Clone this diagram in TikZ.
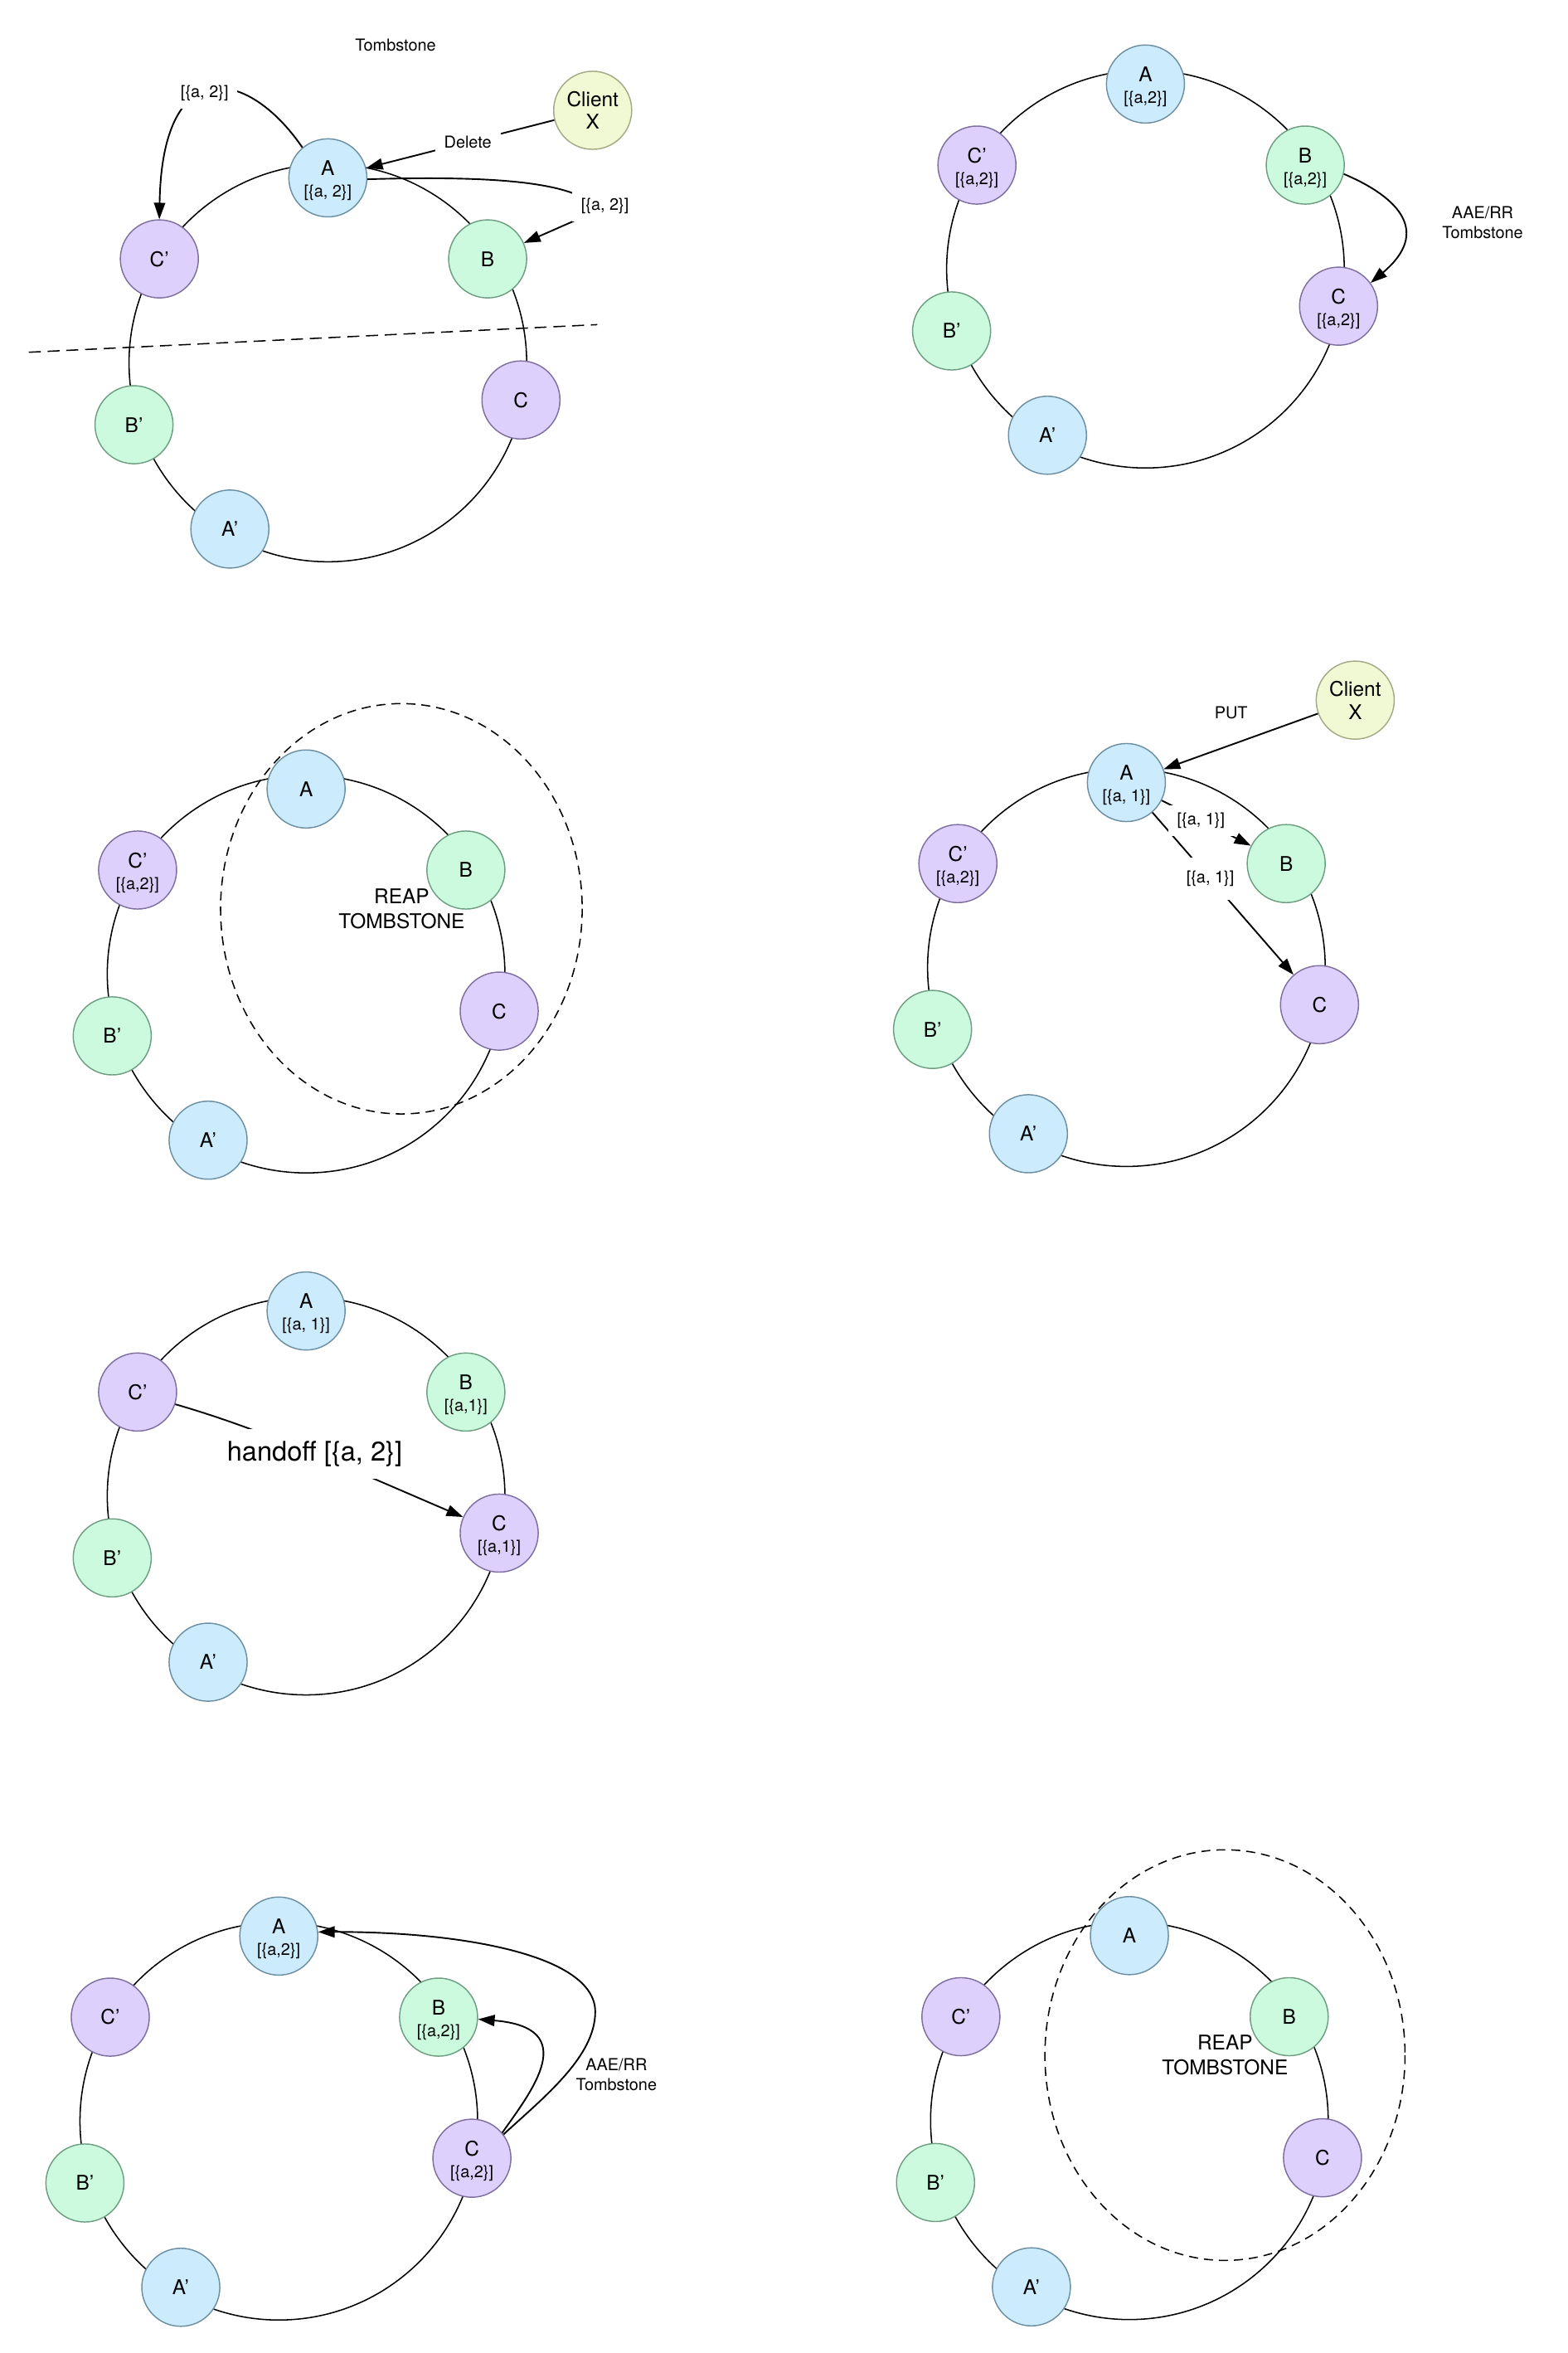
\documentclass[tikz,border=0pt]{standalone}
\usepackage{fontspec}
\setmainfont{TeX Gyre Heros}
\usetikzlibrary{arrows.meta}
\definecolor{nbfill}{HTML}{CCEBFD}
\definecolor{nbdraw}{HTML}{6D8FA2}
\definecolor{ngfill}{HTML}{CCFADF}
\definecolor{ngdraw}{HTML}{6E9E82}
\definecolor{npfill}{HTML}{DDD0FC}
\definecolor{npdraw}{HTML}{7E6F9E}
\definecolor{nyfill}{HTML}{F0F9D4}
\definecolor{nydraw}{HTML}{A3A985}
\newcommand\two[2]{\rule{0pt}{13.7pt}#1\\{\fontsize{11}{14.4}\selectfont #2}}
\newcommand\ringdiag[8][]{%
  \begin{scope}[shift={(#3,#4)}]
    \draw[ringline] (0,123.3) circle[radius=132.5];
    #1
    \node[bnode] (#2A) at (0,0) {#5};
    \node[gnode] (#2B) at (106.5,54) {#6};
    \node[pnode] (#2C) at (128.7,148) {#7};
    \node[pnode] (#2Cp) at (-112.3,54) {#8};
    \node[gnode] (#2Bp) at (-129.2,164.5) {B’};
    \node[bnode] (#2Ap) at (-65.3,234) {A’};
  \end{scope}}
\begin{document}
\begin{tikzpicture}[x=1pt,y=-1pt,
  ringline/.style={line width=0.85pt},
  dashline/.style={line width=0.85pt, dash pattern=on 8pt off 4.5pt},
  dashell/.style={line width=0.85pt, dash pattern=on 6pt off 4pt},
  nodebase/.style={circle, minimum size=52pt, inner sep=0pt, line width=0.8pt, align=center, font=\fontsize{13.5}{14.4}\selectfont},
  bnode/.style={nodebase, fill=nbfill, draw=nbdraw},
  gnode/.style={nodebase, fill=ngfill, draw=ngdraw},
  pnode/.style={nodebase, fill=npfill, draw=npdraw},
  ynode/.style={nodebase, fill=nyfill, draw=nydraw},
  arr/.style={line width=1.05pt, -{Triangle[length=11pt,width=7.5pt]}},
  lbl/.style={fill=white, inner xsep=6pt, inner ysep=5pt, font=\fontsize{11}{13}\selectfont},
  txt/.style={inner sep=0pt, align=center, font=\fontsize{11}{13.7}\selectfont},
  bigtxt/.style={inner sep=0pt, align=center, font=\fontsize{13.5}{16.5}\selectfont}]

\useasboundingbox (0,0) rectangle (1045,1567.8);
\fill[white] (0,0) rectangle (1045,1567.8);

% ---------- Diagram 1 ----------
\ringdiag{d1}{218.5}{118.5}{\two{A}{[\{a, 2\}]}}{B}{C}{C’}
\node[ynode] (d1X) at (395,73.5) {Client\\[0.8pt]X};
\coordinate (d1p) at (19.2,234.7);
\coordinate (d1q) at (398.1,216.3);
\draw[dashline] (d1p) -- (d1q);
\draw[arr] (d1X) -- node[lbl,pos=0.46]{Delete} (d1A);
\draw[arr] (d1A.130) .. controls (165,45) and (108,35) .. node[lbl,pos=0.54]{[\{a, 2\}]} (d1Cp.north);
\coordinate (d1k) at (399,140);
\draw[arr] (d1A.-2) .. controls (330,117) and (385,121) .. (d1k) -- (d1B);
\node[lbl] (d1l) at (403.2,137.5) {[\{a, 2\}]};
\node[txt] (d1t) at (263.6,30.3) {Tombstone};

% ---------- Diagram 2 ----------
\ringdiag{d2}{763.4}{56}{\two{A}{[\{a,2\}]}}{\two{B}{[\{a,2\}]}}{\two{C}{[\{a,2\}]}}{\two{C’}{[\{a,2\}]}}
\draw[arr] (d2B.-13) .. controls (933.5,132) and (953.2,155.1) .. (d2C.36);
\node[txt] (d2t) at (988.1,148.3) {AAE/RR\\Tombstone};

% ---------- Diagram 3 ----------
\ringdiag[{\draw[dashell] (63.5,79.8) ellipse [x radius=120.5, y radius=136.7];}]{d3}{204}{525.7}{A}{B}{C}{\two{C’}{[\{a,2\}]}}
\node[bigtxt] (d3t) at (267.7,605.7) {REAP\\TOMBSTONE};

% ---------- Diagram 4 ----------
\ringdiag{d4}{750.7}{521.4}{\two{A}{[\{a, 1\}]}}{B}{C}{\two{C’}{[\{a,2\}]}}
\node[ynode] (d4X) at (903.2,466.5) {Client\\[0.8pt]X};
\draw[arr] (d4X) -- (d4A);
\node[txt] (d4t) at (820.5,475) {PUT};
\draw[arr] (d4A) -- node[lbl,inner ysep=9pt,pos=0.41]{[\{a, 1\}]} (d4C);
\draw[arr] (d4A) -- node[lbl,pos=0.44]{[\{a, 1\}]} (d4B);

% ---------- Diagram 5 ----------
\ringdiag{d5}{204}{873.5}{\two{A}{[\{a, 1\}]}}{\two{B}{[\{a,1\}]}}{\two{C}{[\{a,1\}]}}{C’}
\draw[arr] (d5Cp.-18) .. controls (177.4,952.9) and (247.9,984.9) .. node[lbl, inner xsep=3pt, inner ysep=8pt, font=\fontsize{18}{20}\selectfont, pos=0.485]{handoff [\{a, 2\}]} (d5C.156);

% ---------- Diagram 6 ----------
\ringdiag{d6}{185.8}{1290}{\two{A}{[\{a,2\}]}}{\two{B}{[\{a,2\}]}}{\two{C}{[\{a,2\}]}}{C’}
\draw[arr] (d6C.40) .. controls (354.1,1393.5) and (388,1351) .. (d6B.-3);
\coordinate (d6m) at (396.7,1340.4);
\draw[arr] (d6C.37) .. controls (363.7,1396.4) and (396.7,1370) .. (d6m) .. controls (396.7,1302) and (305,1287) .. (d6A.6);
\node[txt] (d6t) at (410.8,1382.3) {AAE/RR\\Tombstone};

% ---------- Diagram 7 ----------
\ringdiag[{\draw[dashell] (63.7,79.6) ellipse [x radius=120, y radius=136.8];}]{d7}{752.7}{1289.7}{A}{B}{C}{C’}
\node[bigtxt] (d7t) at (816.4,1369.5) {REAP\\TOMBSTONE};
\end{tikzpicture}
\end{document}
